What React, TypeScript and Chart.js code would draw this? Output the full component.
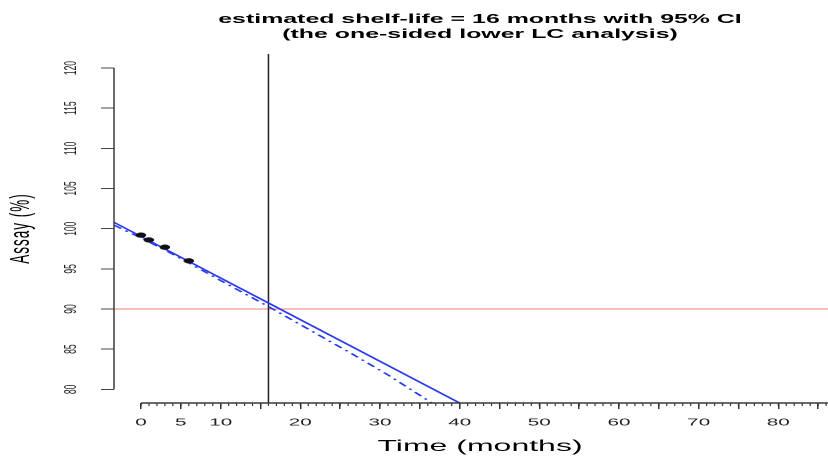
import React, { useEffect, useRef } from 'react';
import { Chart, registerables } from 'chart.js';

Chart.register(...registerables);

// ---- data ----
const stabilityTime = [0, 1, 3, 6];
const stabilityAssay = [99.2, 98.6, 97.7, 96.0];

const fitTime = [-3.4, 16, 40];
const fitAssay = [100.8, 90.75, 78.3];

const lowerTime = [-3.4, 0, 3, 6, 10, 16, 21, 26, 31, 37];
const lowerAssay = [100.45, 98.85, 97.35, 95.75, 93.55, 90.3, 87.5, 84.7, 81.8, 78.0];

const shelfLife = 16;
const specLimit = 90;

const xMajorTicks = [0, 5, 10, 15, 20, 25, 30, 35, 40, 45, 50, 55, 60, 65, 70, 75, 80, 85];
const xLabelTicks = [0, 5, 10, 20, 30, 40, 50, 60, 70, 80];
const xMinorLast = 88;
const yTicks = [80, 85, 90, 95, 100, 105, 110, 115, 120];

const xRange = [-3.39, 88.5];
const yRange = [78.3, 121.75];

const titleLines = [
  'estimated shelf-life = 16 months with 95% CI',
  '(the one-sided lower LC analysis)',
];
const xTitle = 'Time (months)';
const yTitle = 'Assay (%)';

const FONT = "'Liberation Sans', Arial, Helvetica, sans-serif";
const BLUE = '#2a3cf0';

const rAxesPlugin = {
  id: 'rAxes',
  afterLayout(chart: any) {
    const ys = chart.scales.y;
    if (ys && !ys.__spaced) {
      const orig = ys.drawTitle.bind(ys);
      ys.drawTitle = (...args: any[]) => {
        const c = ys.ctx;
        const prev = c.letterSpacing;
        c.letterSpacing = '2px';
        orig(...args);
        c.letterSpacing = prev || '0px';
      };
      ys.__spaced = true;
    }
  },
  afterDraw(chart: any) {
    const { ctx, chartArea, scales } = chart;
    const x = scales.x;
    const y = scales.y;
    ctx.save();
    ctx.strokeStyle = '#3a3a3a';
    // y axis line (only across tick range, R style)
    ctx.lineWidth = 1.5;
    ctx.beginPath();
    ctx.moveTo(chartArea.left, y.getPixelForValue(yTicks[yTicks.length - 1]));
    ctx.lineTo(chartArea.left, y.getPixelForValue(yTicks[0]));
    ctx.stroke();
    // x axis line
    ctx.lineWidth = 3;
    ctx.beginPath();
    ctx.moveTo(x.getPixelForValue(xMajorTicks[0]), chartArea.bottom);
    ctx.lineTo(chartArea.right, chartArea.bottom);
    ctx.stroke();
    // minor ticks
    ctx.lineWidth = 1.2;
    ctx.beginPath();
    for (let t = xMajorTicks[0]; t <= xMinorLast; t += 1) {
      const px = x.getPixelForValue(t);
      ctx.moveTo(px, chartArea.bottom);
      ctx.lineTo(px, chartArea.bottom + 6);
    }
    ctx.stroke();
    ctx.restore();
  },
};

export default function App() {
  const ref = useRef<HTMLCanvasElement | null>(null);

  useEffect(() => {
    if (!ref.current) return;
    const toXY = (xs: number[], ys: number[]) => xs.map((v, i) => ({ x: v, y: ys[i] }));

    const chart = new Chart(ref.current, {
      type: 'scatter',
      data: {
        datasets: [
          {
            label: 'Assay',
            data: toXY(stabilityTime, stabilityAssay),
            backgroundColor: '#111',
            borderColor: '#111',
            borderWidth: 1,
            pointRadius: 4.8,
            showLine: false,
          },
          {
            label: 'Fit',
            data: toXY(fitTime, fitAssay),
            showLine: true,
            borderColor: BLUE,
            borderWidth: 2.6,
            pointRadius: 0,
          },
          {
            label: 'Lower CI',
            data: toXY(lowerTime, lowerAssay),
            showLine: true,
            borderColor: BLUE,
            borderWidth: 2.6,
            borderDash: [10, 6, 3, 6],
            pointRadius: 0,
          },
          {
            label: 'Shelf life',
            data: [
              { x: shelfLife, y: yRange[0] },
              { x: shelfLife, y: yRange[1] },
            ],
            showLine: true,
            borderColor: '#222',
            borderWidth: 1.5,
            pointRadius: 0,
          },
          {
            label: 'Spec',
            data: [
              { x: xRange[0], y: specLimit },
              { x: xRange[1], y: specLimit },
            ],
            showLine: true,
            borderColor: '#f28080',
            borderWidth: 2,
            pointRadius: 0,
          },
        ],
      },
      options: {
        responsive: false,
        maintainAspectRatio: false,
        devicePixelRatio: 1,
        animation: false,
        events: [],
        layout: { padding: { left: 0, right: 114, top: 0, bottom: 0 } },
        plugins: {
          legend: { display: false },
          tooltip: { enabled: false },
          title: {
            display: true,
            fullSize: false,
            text: titleLines,
            color: '#000',
            font: { family: FONT, size: 24.9, weight: 'bold', lineHeight: '30px' },
            padding: { top: 24, bottom: 24 },
          },
        },
        scales: {
          x: {
            type: 'linear',
            position: 'bottom',
            min: xRange[0],
            max: xRange[1],
            afterBuildTicks: (s: any) => {
              s.ticks = xMajorTicks.map((v) => ({ value: v }));
            },
            afterFit: (s: any) => {
              s.height = 108;
            },
            grid: {
              display: true,
              drawOnChartArea: false,
              drawTicks: true,
              tickLength: 12,
              lineWidth: 1.5,
              color: '#333',
            },
            border: { display: false },
            ticks: {
              autoSkip: false,
              maxRotation: 0,
              minRotation: 0,
              padding: 15,
              color: '#222',
              font: { family: FONT, size: 20.7 },
              callback: (v: any) => (xLabelTicks.includes(Number(v)) ? String(v) : ''),
            },
            title: {
              display: true,
              text: xTitle,
              color: '#000',
              font: { family: FONT, size: 32 },
              padding: { top: 0, bottom: 2 },
            },
          },
          y: {
            type: 'linear',
            position: 'left',
            min: yRange[0],
            max: yRange[1],
            afterBuildTicks: (s: any) => {
              s.ticks = yTicks.map((v) => ({ value: v }));
            },
            afterFit: (s: any) => {
              s.width = 114;
            },
            grid: {
              display: true,
              drawOnChartArea: false,
              drawTicks: true,
              tickLength: 13,
              lineWidth: 2,
              color: '#444',
            },
            border: { display: false },
            ticks: {
              autoSkip: false,
              minRotation: 90,
              maxRotation: 90,
              crossAlign: 'center',
              padding: 16,
              color: '#222',
              font: { family: FONT, size: 17 },
              callback: (v: any) => String(v),
            },
            title: {
              display: true,
              text: yTitle,
              color: '#000',
              font: { family: FONT, size: 27 },
              padding: { top: 5.5, bottom: 0 },
            },
          },
        },
      },
      plugins: [rAxesPlugin],
    } as any);

    return () => {
      chart.destroy();
    };
  }, []);

  return (
    <div
      style={{
        position: 'fixed',
        left: 0,
        top: 0,
        width: 828,
        height: 457,
        overflow: 'hidden',
        background: '#fff',
      }}
    >
      <canvas
        ref={ref}
        width={960}
        height={914}
        style={{ width: '960px', height: '457px', display: 'block' }}
      />
    </div>
  );
}
